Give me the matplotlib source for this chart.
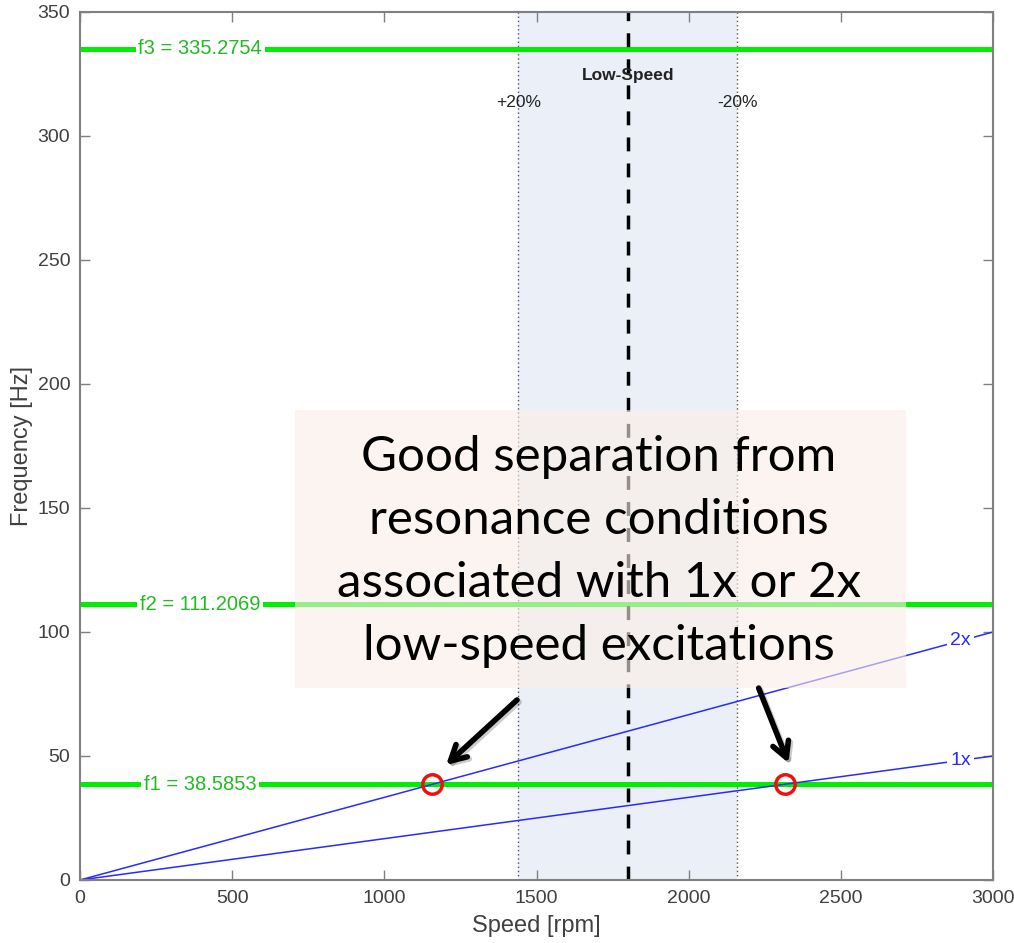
import matplotlib
matplotlib.use("Agg")
import matplotlib.pyplot as plt
import matplotlib.patheffects as pe
import numpy as np

# ---- data ----
speed_range = [0, 3000]
harmonics = [1, 2]
harmonic_labels = ["1x", "2x"]
natural_freqs = [38.5853, 111.2069, 335.2754]
freq_labels = ["f1 = 38.5853", "f2 = 111.2069", "f3 = 335.2754"]
nominal_speed = 1800
margin = 0.20
xticks = [0, 500, 1000, 1500, 2000, 2500, 3000]
yticks = [0, 50, 100, 150, 200, 250, 300, 350]
note_text = ("Good separation from\nresonance conditions\n"
             "associated with 1x or 2x\nlow-speed excitations")

plt.rcParams['font.family'] = ['Liberation Sans', 'DejaVu Sans']
fig = plt.figure(figsize=(10.14, 9.43), dpi=100)
ax = fig.add_axes([80/1014, 63/943, 913/1014, 868/943])
ax.set_xlim(speed_range)
ax.set_ylim(0, 350)

grey = '#808080'
tc = '#404040'

# low-speed band
lo = nominal_speed * (1 - margin)
hi = nominal_speed * (1 + margin)
ax.axvspan(lo, hi, color='#eaeff8', zorder=0, lw=0)
ax.axvline(lo, color='#555555', ls=(0, (1, 2)), lw=1, zorder=1)
ax.axvline(hi, color='#555555', ls=(0, (1, 2)), lw=1, zorder=1)
ax.axvline(nominal_speed, color='black', ls=(0, (4, 3.5)), lw=2.5, zorder=3)
ax.text(nominal_speed, 324.5, "Low-Speed", ha='center', va='center',
        fontsize=12.5, fontweight='bold', color='#222222', zorder=4)
ax.text(lo, 313.5, "+20%", ha='center', va='center', fontsize=12.5, color='#222222', zorder=4)
ax.text(hi, 313.5, "-20%", ha='center', va='center', fontsize=12.5, color='#222222', zorder=4)

# natural frequency lines
for f, lab in zip(natural_freqs, freq_labels):
    ax.axhline(f, color='#00ee00', lw=3.6, zorder=2)
    ax.text(395, f, lab, ha='center', va='center', fontsize=14.5, color='#22bb22',
            bbox=dict(facecolor='white', edgecolor='none', pad=2), zorder=3)

# excitation lines
sp = np.array(speed_range, dtype=float)
for h, lab in zip(harmonics, harmonic_labels):
    ax.plot(sp, h * sp / 60.0, color='#2a2aff', lw=1.1, zorder=2.5)
    xl = 2893
    ax.text(xl, h * xl / 60.0, lab, ha='center', va='center', fontsize=14,
            color='#2a2aff', bbox=dict(facecolor='white', edgecolor='none', pad=2.5), zorder=3)

# intersections with f1
f1 = natural_freqs[0]
cross_x = [f1 * 60.0 / h for h in harmonics]
ax.plot(cross_x, [f1] * len(cross_x), 'o', ms=14, mfc='none', mec='#ee1111', mew=2.5, zorder=5)

# note box
ax.add_patch(plt.Rectangle((705, 77.4), 2010, 112.1, facecolor='#fbeee6', alpha=0.6,
                           edgecolor='none', zorder=4))
ax.text(1705, 132.5, note_text, ha='center', va='center', fontsize=35.5,
        family=['Lato', 'DejaVu Sans'], linespacing=1.53, color='black', zorder=6)

# arrows
shadow = [pe.SimpleLineShadow(offset=(1.5, -1.5), alpha=0.2, shadow_color='black'), pe.Normal()]
for tail, head in [((1436, 72.6), (1203, 46.4)), ((2230, 77.4), (2328, 47.2))]:
    ax.annotate("", xy=head, xytext=tail,
                arrowprops=dict(arrowstyle='->,head_length=1.1,head_width=0.6',
                                lw=4, color='black', shrinkA=0, shrinkB=0,
                                path_effects=shadow), zorder=7)

# axes styling
ax.set_xticks(xticks)
ax.set_yticks(yticks)
ax.tick_params(direction='in', length=7, width=1, colors=grey, labelcolor=tc,
               labelsize=14, top=True, right=True, pad=7)
for s in ax.spines.values():
    s.set_color(grey)
    s.set_linewidth(1.5)
    s.set_zorder(8)
ax.set_xlabel("Speed [rpm]", fontsize=17, color=tc, labelpad=6)
ax.set_ylabel("Frequency [Hz]", fontsize=17, color=tc, labelpad=3)

fig.savefig("out.png", dpi=100)
